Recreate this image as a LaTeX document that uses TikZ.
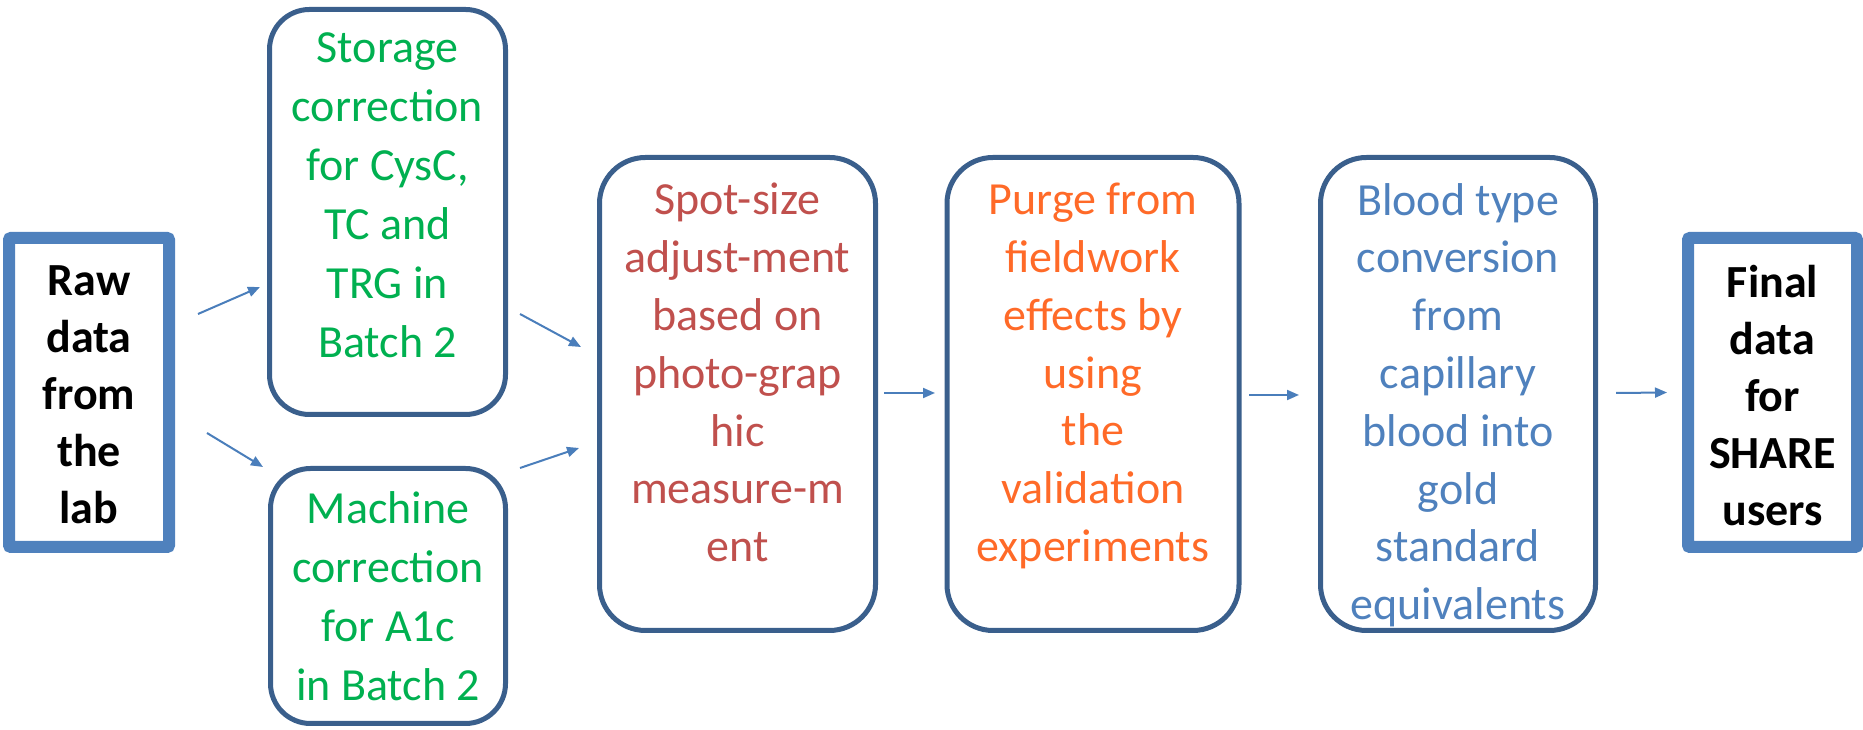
\documentclass[tikz,border=0pt]{standalone}
\usepackage{fontspec}
\setmainfont{Carlito}
\usetikzlibrary{arrows.meta}
\definecolor{boxblue}{HTML}{3A5F8C}
\definecolor{edgeblue}{HTML}{4F81BD}
\definecolor{arrowblue}{HTML}{4A7EBB}
\definecolor{stepgreen}{HTML}{00B050}
\definecolor{stepred}{HTML}{C0504D}
\definecolor{steporange}{HTML}{FF6A28}
\definecolor{stepblue}{HTML}{4F81BD}
\tikzset{
	stage/.style={draw=boxblue, line width=5pt, rounded corners=#1, inner sep=0pt},
	stage/.default=46pt,
	ends/.style={draw=edgeblue, line width=12pt, rounded corners=2pt, inner sep=0pt},
	txt/.style={anchor=north, inner sep=0pt, align=center, text=#1, font=\fontsize{46}{57.8}\selectfont},
	gtxt/.style={txt=stepgreen, font=\fontsize{46}{59}\selectfont},
	endtxt/.style={txt=black, font=\fontsize{46}{57}\selectfont\bfseries},
	flow/.style={draw=arrowblue, line width=2pt, -{Triangle[length=12pt,width=10pt]}}
}

\begin{document}
\begin{tikzpicture}[x=1pt, y=1pt]
			\useasboundingbox (0,0) rectangle (1863,730);
			\node[ends, minimum width=160pt, minimum height=309pt] (raw) at (89,337.5) {};
			\node[stage=40pt, minimum width=236pt, minimum height=405pt] (stor) at (387.5,518) {};
			\node[stage=40pt, minimum width=235pt, minimum height=255pt] (mach) at (388,134) {};
			\node[stage, minimum width=276pt, minimum height=473pt] (spot) at (737.5,336) {};
			\node[stage, minimum width=292pt, minimum height=473pt] (purge) at (1093,336) {};
			\node[stage, minimum width=275pt, minimum height=473pt] (blood) at (1458,336) {};
			\node[ends, minimum width=169pt, minimum height=309pt] (final) at (1772.5,337.5) {};
			\node[endtxt] (rawtxt) at ([yshift=-33pt]raw.north) {Raw\\data\\from\\the\\lab};
			\node[gtxt] (stortxt) at ([yshift=-25pt]stor.north) {Storage\\correction\\for CysC,\\TC and\\TRG in\\Batch 2};
			\node[gtxt] (machtxt) at ([yshift=-25pt]mach.north) {Machine\\correction\\for A1c\\in Batch 2};
			\node[txt=stepred] (spottxt) at ([yshift=-28pt]spot.north) {Spot-size\\adjust-ment\\based on\\photo-grap\\hic\\measure-m\\ent};
			\node[txt=steporange] (purgetxt) at ([yshift=-28pt]purge.north) {Purge from\\fieldwork\\effects by\\using\\the\\validation\\experiments};
			\node[txt=stepblue] (bloodtxt) at ([yshift=-28pt]blood.north) {Blood type\\conversion\\from\\capillary\\blood into\\gold\\standard\\equivalents};
			\node[endtxt] (finaltxt) at ([yshift=-33pt]final.north) {Final\\data\\for\\SHARE\\users};
			\draw[flow] ([shift={(23,78.5)}]raw.east) -- ([shift={(-7,130)}]stor.south west);
			\draw[flow] ([shift={(32,-40.5)}]raw.east) -- ([shift={(-5,-1)}]mach.north west);
			\draw[flow] ([shift={(12,103)}]stor.south east) -- ([shift={(-16,47)}]spot.west);
			\draw[flow] ([shift={(12,-2)}]mach.north east) -- ([shift={(-18,-54)}]spot.west);
			\draw[flow] ([shift={(6,1)}]spot.east) -- ([shift={(-9.5,1)}]purge.west);
			\draw[flow] ([shift={(7.5,-1)}]purge.east) -- ([shift={(-19,-1)}]blood.west);
			\draw[flow] ([shift={(18,1)}]blood.east) -- ([shift={(-15,0)}]final.west);
\end{tikzpicture}
\end{document}
